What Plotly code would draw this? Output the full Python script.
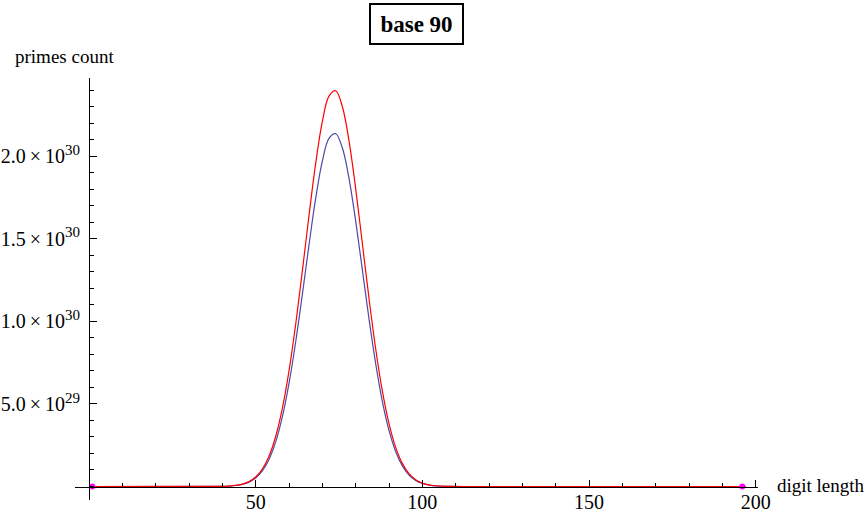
import plotly.graph_objects as go

# digit length samples and prime counts (units of 1e30)
digit_length = [0, 38, 40, 42, 44, 46, 48, 50, 52, 54, 56, 58, 60, 62, 64, 66, 68, 70, 72, 74,
                76, 78, 80, 82, 84, 86, 88, 90, 92, 94, 96, 98, 100, 102, 104, 106, 108, 112, 197]
count_red = [0, 0.0002, 0.0012, 0.0029, 0.0067, 0.0144, 0.0295, 0.0574, 0.1054, 0.1835, 0.3027,
             0.4728, 0.700, 0.981, 1.304, 1.641, 1.956, 2.209, 2.364, 2.396, 2.301, 2.093, 1.804,
             1.473, 1.139, 0.834, 0.579, 0.381, 0.237, 0.140, 0.0783, 0.0415, 0.0208, 0.0099,
             0.0045, 0.0019, 0.0008, 0.0001, 0]
count_blue = [0, 0.0002, 0.0011, 0.0026, 0.0060, 0.0129, 0.0263, 0.0512, 0.0940, 0.1636, 0.2699,
              0.4216, 0.624, 0.875, 1.162, 1.463, 1.744, 1.970, 2.108, 2.136, 2.051, 1.866, 1.608,
              1.313, 1.015, 0.744, 0.516, 0.340, 0.212, 0.125, 0.0698, 0.0370, 0.0186, 0.0088,
              0.0040, 0.0017, 0.0007, 0.0001, 0]

# end points marked in magenta
end_x = [1, 196]
end_y = [0, 0]

x_ticks = [50, 100, 150, 200]
y_ticks = [5e29, 1e30, 1.5e30, 2e30]
y_mantissa = ["5.0", "1.0", "1.5", "2.0"]
y_exponent = ["29", "30", "30", "30"]
y_ticktext = [m + "\u2009\u00d7\u200910<sup><span style='font-size:15px'>" + e + "</span></sup>"
              for m, e in zip(y_mantissa, y_exponent)]

x_range = [-4.2, 200.7]
y_range = [-0.0817e30, 2.4733e30]

serif = "Liberation Serif"

fig = go.Figure()
fig.add_trace(go.Scatter(x=digit_length, y=[v * 1e30 for v in count_blue], mode="lines",
                         line=dict(color="#4a4aa8", width=1.2, shape="spline"),
                         hoverinfo="skip"))
fig.add_trace(go.Scatter(x=digit_length, y=[v * 1e30 for v in count_red], mode="lines",
                         line=dict(color="#ff0000", width=1.2, shape="spline"),
                         hoverinfo="skip"))
fig.add_trace(go.Scatter(x=end_x, y=end_y, mode="markers",
                         marker=dict(color="#ff00ff", size=6), hoverinfo="skip"))

# positions of the axes (they cross at the origin, Mathematica style)
x_axis_pos = (0 - y_range[0]) / (y_range[1] - y_range[0])
y_axis_pos = (0 - x_range[0]) / (x_range[1] - x_range[0])

fig.update_layout(
    width=867, height=514,
    margin=dict(l=75, r=109, t=78, b=14),
    paper_bgcolor="white", plot_bgcolor="white",
    showlegend=False,
    font=dict(family=serif, size=20, color="black"),
    xaxis=dict(range=x_range, anchor="free", position=x_axis_pos,
               showline=True, linecolor="black", linewidth=1,
               showgrid=False, zeroline=False,
               ticks="inside", ticklen=7, tickcolor="black",
               tickmode="array", tickvals=x_ticks, ticklabelstandoff=-3,
               minor=dict(ticks="inside", ticklen=4, dtick=10, tick0=0, tickcolor="black"),
               tickfont=dict(family=serif, size=20), automargin=False),
    yaxis=dict(range=y_range, anchor="free", position=y_axis_pos,
               showline=True, linecolor="black", linewidth=1,
               showgrid=False, zeroline=False,
               ticks="inside", ticklen=7, tickcolor="black",
               tickmode="array", tickvals=y_ticks, ticktext=y_ticktext, ticklabelstandoff=5,
               minor=dict(ticks="inside", ticklen=4, dtick=1e29, tick0=0, tickcolor="black"),
               tickfont=dict(family=serif, size=20), automargin=False),
    annotations=[
        dict(text="<b>base 90</b>", xref="paper", yref="paper", x=0.5007, y=1.128,
             xanchor="center", yanchor="middle", showarrow=False,
             font=dict(family=serif, size=23, color="black"),
             width=79, height=26,
             bordercolor="black", borderwidth=2, borderpad=6, bgcolor="white"),
        dict(text="primes count", xref="paper", yref="paper", x=-0.0912, y=1.052,
             xanchor="left", yanchor="middle", showarrow=False,
             font=dict(family=serif, size=19, color="black")),
        dict(text="digit length", xref="paper", yref="paper", x=(775 - 75) / 683,
             y=(500 - 485) / 422, xanchor="left", yanchor="middle", showarrow=False,
             font=dict(family=serif, size=19, color="black")),
    ],
)

# the page body has a default 8px margin; drop it so the figure sits at the corner
fig.write_html("out.html", config={"displayModeBar": False},
               post_script="document.body.style.margin='0';")
